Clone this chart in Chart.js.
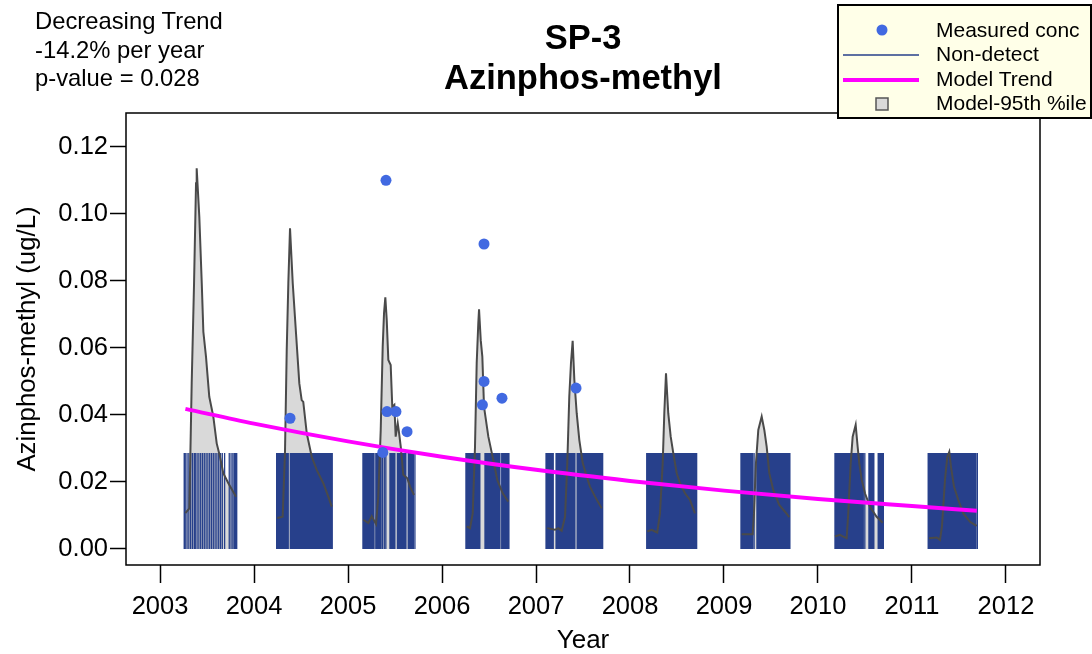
<!DOCTYPE html>
<html>
<head>
<meta charset="utf-8">
<script src="https://cdn.jsdelivr.net/npm/chart.js@4.4.1/dist/chart.umd.min.js"></script>
<style>
  body { margin: 0; background: #fff; font-family: "Liberation Sans", Arial, sans-serif; }
  #wrap { position: relative; width: 1092px; height: 654px; }
  #note { position: absolute; left: 35px; top: 7px; font-size: 23.8px; line-height: 28.5px; color: #000; }
  #titulo { position: absolute; left: 333px; width: 500px; top: 17px; text-align: center; font-size: 34.5px; font-weight: bold; line-height: 40px; }
  #leyenda { position: absolute; left: 837px; top: 4px; width: 251px; height: 111px; border: 2px solid #000; background: #FFFFE8; }
  #leyenda canvas { position: absolute; left: 0; top: 0; }
  #leyenda .txt { position: absolute; left: 97px; font-size: 21px; line-height: 24px; }
</style>
</head>
<body>
<div id="wrap">
  <canvas id="graficoTendencia" width="1092" height="654"></canvas>
  <div id="note">Decreasing Trend<br>-14.2% per year<br>p-value = 0.028</div>
  <div id="titulo">SP-3<br>Azinphos-methyl</div>
  <div id="leyenda">
    <canvas id="simbolos" width="100" height="111"></canvas>
    <div class="txt" style="top:12px">Measured conc</div>
    <div class="txt" style="top:36px">Non-detect</div>
    <div class="txt" style="top:61px">Model Trend</div>
    <div class="txt" style="top:85px">Model-95th %ile</div>
  </div>
</div>
<script>
// ejes
const xTicks = [2003, 2004, 2005, 2006, 2007, 2008, 2009, 2010, 2011, 2012];
const yTicks = [0.00, 0.02, 0.04, 0.06, 0.08, 0.10, 0.12];

// concentraciones medidas (detecciones)
const medidoAnio = [2004.383, 2005.370, 2005.404, 2005.415, 2005.510, 2005.628, 2006.430, 2006.447, 2006.447, 2006.638, 2007.426];
const medidoConc = [0.039, 0.0288, 0.110, 0.041, 0.041, 0.035, 0.043, 0.050, 0.091, 0.045, 0.048];

// tendencia del modelo
const tendAnio = [2003.27, 2004, 2005, 2006, 2007, 2008, 2009, 2010, 2011, 2011.69];
const tendConc = [0.0418, 0.0374, 0.0321, 0.0275, 0.0236, 0.0203, 0.0174, 0.0149, 0.0128, 0.0114];

// limite de deteccion y fechas de no-detectados (dia del anio por temporada)
const limiteDeteccion = 0.0286;
const nd2003 = [94, 98, 105, 112, 119, 126, 133, 137, 144, 151, 158, 165, 172, 179, 186, 193, 200, 207, 214, 221, 228, 235, 242, 251, 269, 276, 283, 289, 293, 298];
const nd2004 = [88, 92, 97, 102, 106, 111, 116, 120, 125, 130, 133, 141, 146, 151, 155, 160, 165, 169, 174, 179, 183, 188, 193, 197, 202, 207, 211, 216, 221, 225, 230, 235, 239, 244, 249, 253, 258, 263, 267, 272, 277, 281, 286, 291, 295, 300, 304];
const nd2005 = [58, 63, 68, 73, 78, 83, 88, 93, 98, 101, 108, 113, 118, 123, 128, 134, 141, 147, 163, 168, 173, 178, 182, 192, 197, 202, 207, 212, 217, 222, 225, 234, 239, 244, 249, 254, 260];
const nd2006 = [93, 98, 103, 108, 113, 118, 123, 128, 133, 138, 143, 147, 167, 172, 177, 182, 187, 192, 197, 202, 207, 212, 217, 222, 225, 232, 237, 242, 247, 252, 256, 260];
const nd2007 = [39, 44, 49, 54, 59, 64, 67, 78, 83, 88, 93, 98, 103, 108, 113, 118, 123, 128, 133, 138, 143, 148, 151, 160, 165, 170, 175, 180, 185, 190, 195, 200, 205, 210, 215, 220, 225, 230, 235, 240, 245, 250, 255, 259];
const nd2008 = [65, 70, 75, 80, 85, 90, 95, 100, 105, 110, 115, 120, 125, 130, 135, 140, 145, 150, 155, 160, 165, 170, 175, 180, 185, 190, 195, 200, 205, 210, 215, 220, 225, 230, 235, 240, 245, 250, 255, 259];
const nd2009 = [66, 71, 76, 81, 86, 91, 96, 101, 106, 111, 117, 128, 133, 138, 143, 148, 153, 158, 163, 168, 173, 178, 183, 188, 193, 198, 203, 208, 213, 218, 223, 228, 233, 238, 243, 248, 253, 256];
const nd2010 = [66, 71, 76, 81, 86, 91, 96, 101, 106, 111, 116, 121, 126, 131, 136, 141, 146, 151, 156, 161, 166, 171, 176, 182, 198, 203, 208, 213, 217, 234, 239, 244, 249, 254];
const nd2011 = [63, 68, 73, 78, 83, 88, 93, 98, 103, 108, 113, 118, 123, 128, 133, 138, 143, 148, 153, 158, 163, 168, 173, 178, 183, 188, 193, 198, 203, 208, 213, 218, 223, 228, 233, 238, 243, 248, 254];

// percentil 95 del modelo: [anio, conc]
const p95_2003 = [[2003.269, 0.0107], [2003.312, 0.0121], [2003.337, 0.0495], [2003.362, 0.0793], [2003.383, 0.1091], [2003.390, 0.1136], [2003.418, 0.0991], [2003.444, 0.0793], [2003.461, 0.0648], [2003.489, 0.0574], [2003.524, 0.0454], [2003.567, 0.0395], [2003.603, 0.0315], [2003.638, 0.0275], [2003.673, 0.0226], [2003.727, 0.0196], [2003.809, 0.0156]];
const p95_2004 = [[2004.248, 0.0092], [2004.305, 0.0096], [2004.330, 0.0295], [2004.348, 0.0594], [2004.365, 0.0793], [2004.383, 0.0957], [2004.412, 0.0793], [2004.447, 0.0643], [2004.482, 0.0494], [2004.507, 0.0444], [2004.524, 0.0439], [2004.561, 0.0345], [2004.614, 0.0275], [2004.667, 0.0236], [2004.737, 0.0196], [2004.790, 0.0156], [2004.827, 0.0126]];
const p95_2005 = [[2005.163, 0.0087], [2005.216, 0.0077], [2005.252, 0.0098], [2005.298, 0.0074], [2005.322, 0.0156], [2005.348, 0.0355], [2005.369, 0.0603], [2005.383, 0.0703], [2005.397, 0.0751], [2005.412, 0.0683], [2005.429, 0.0564], [2005.454, 0.0549], [2005.471, 0.0424], [2005.493, 0.0430], [2005.507, 0.0335], [2005.529, 0.0375], [2005.539, 0.0355], [2005.561, 0.0305], [2005.588, 0.0221], [2005.631, 0.0211], [2005.660, 0.0186], [2005.702, 0.0161]];
const p95_2006 = [[2006.263, 0.0067], [2006.298, 0.0062], [2006.327, 0.0106], [2006.351, 0.0305], [2006.369, 0.0554], [2006.386, 0.0673], [2006.394, 0.0715], [2006.412, 0.0623], [2006.429, 0.0574], [2006.447, 0.0424], [2006.493, 0.0335], [2006.546, 0.0265], [2006.588, 0.0206], [2006.646, 0.0166], [2006.705, 0.0141]];
const p95_2007 = [[2007.120, 0.0062], [2007.202, 0.0057], [2007.237, 0.0062], [2007.273, 0.0054], [2007.309, 0.0096], [2007.333, 0.0256], [2007.354, 0.0454], [2007.372, 0.0554], [2007.390, 0.0621], [2007.408, 0.0504], [2007.433, 0.0405], [2007.461, 0.0325], [2007.497, 0.0256], [2007.539, 0.0216], [2007.574, 0.0186], [2007.628, 0.0156], [2007.699, 0.0121]];
const p95_2008 = [[2008.184, 0.0052], [2008.231, 0.0057], [2008.266, 0.0052], [2008.290, 0.0049], [2008.319, 0.0106], [2008.348, 0.0256], [2008.365, 0.0405], [2008.383, 0.0524], [2008.407, 0.0405], [2008.433, 0.0335], [2008.461, 0.0285], [2008.497, 0.0226], [2008.532, 0.0196], [2008.585, 0.0166], [2008.638, 0.0146], [2008.691, 0.0106]];
const p95_2009 = [[2009.188, 0.0044], [2009.305, 0.0044], [2009.319, 0.0106], [2009.340, 0.0256], [2009.365, 0.0355], [2009.401, 0.0395], [2009.429, 0.0355], [2009.454, 0.0305], [2009.482, 0.0226], [2009.524, 0.0176], [2009.588, 0.0131], [2009.649, 0.0111], [2009.695, 0.0095]];
const p95_2010 = [[2010.181, 0.0037], [2010.234, 0.0042], [2010.269, 0.0037], [2010.305, 0.0032], [2010.322, 0.0106], [2010.348, 0.0256], [2010.369, 0.0335], [2010.401, 0.0370], [2010.422, 0.0305], [2010.439, 0.0256], [2010.465, 0.0206], [2010.500, 0.0166], [2010.553, 0.0126], [2010.624, 0.0096], [2010.688, 0.0078]];
const p95_2011 = [[2011.181, 0.0032], [2011.263, 0.0034], [2011.298, 0.0027], [2011.319, 0.0067], [2011.351, 0.0206], [2011.376, 0.0275], [2011.397, 0.0290], [2011.415, 0.0245], [2011.447, 0.0186], [2011.493, 0.0146], [2011.546, 0.0106], [2011.617, 0.0081], [2011.688, 0.0069]];

const temporadasND = [[2003, nd2003], [2004, nd2004], [2005, nd2005], [2006, nd2006], [2007, nd2007], [2008, nd2008], [2009, nd2009], [2010, nd2010], [2011, nd2011]];
const temporadasP95 = [p95_2003, p95_2004, p95_2005, p95_2006, p95_2007, p95_2008, p95_2009, p95_2010, p95_2011];

const FUENTE = '"Liberation Sans", Arial, sans-serif';

// cada no-detectado es un segmento vertical de 0 al limite; null corta la linea
const puntosND = [];
temporadasND.forEach(([anio, dias]) => {
    dias.forEach(d => {
        const x = anio + d / 365.25;
        puntosND.push({ x: x, y: 0 }, { x: x, y: limiteDeteccion }, { x: x, y: null });
    });
});

const puntosP95 = [];
temporadasP95.forEach(t => {
    t.forEach(([x, y]) => puntosP95.push({ x: x, y: y }));
    puntosP95.push({ x: t[t.length - 1][0] + 0.01, y: null });
});

const marcoPlugin = {
    id: 'marco',
    afterDatasetsDraw(chart) {
        const { ctx, chartArea: a } = chart;
        ctx.save();
        ctx.strokeStyle = '#000';
        ctx.lineWidth = 1.5;
        ctx.strokeRect(a.left, a.top, a.right - a.left, a.bottom - a.top);
        ctx.restore();
    }
};

const ctx = document.getElementById('graficoTendencia').getContext('2d');
new Chart(ctx, {
    type: 'line',
    data: {
        datasets: [
            {
                label: 'Measured conc',
                data: medidoAnio.map((x, i) => ({ x: x, y: medidoConc[i] })),
                showLine: false,
                pointRadius: 5.5,
                pointBackgroundColor: '#4169E1',
                pointBorderWidth: 0,
                order: 1
            },
            {
                label: 'Model Trend',
                data: tendAnio.map((x, i) => ({ x: x, y: tendConc[i] })),
                borderColor: '#FF00FF',
                borderWidth: 4,
                pointRadius: 0,
                cubicInterpolationMode: 'monotone',
                order: 2
            },
            {
                label: 'Model-95th outline',
                data: puntosP95,
                borderColor: '#4a4a4a',
                borderWidth: 2,
                pointRadius: 0,
                spanGaps: false,
                order: 3
            },
            {
                label: 'Non-detect',
                data: puntosND,
                borderColor: '#27408B',
                borderWidth: 1.3,
                pointRadius: 0,
                spanGaps: false,
                order: 4
            },
            {
                label: 'Model-95th %ile',
                data: puntosP95,
                borderWidth: 0,
                borderColor: 'rgba(0,0,0,0)',
                backgroundColor: '#D9D9D9',
                fill: 'origin',
                pointRadius: 0,
                spanGaps: false,
                order: 5
            }
        ]
    },
    options: {
        responsive: false,
        animation: false,
        devicePixelRatio: 1,
        layout: { padding: { left: 0, right: 52, top: 113, bottom: 0 } },
        plugins: {
            legend: { display: false },
            tooltip: { enabled: false }
        },
        scales: {
            x: {
                type: 'linear',
                min: 2002.638,
                max: 2012.362,
                afterBuildTicks: s => { s.ticks = xTicks.map(v => ({ value: v })); },
                afterFit: s => { s.height = 89; },
                ticks: {
                    color: '#000',
                    font: { family: FUENTE, size: 25.5 },
                    padding: 9,
                    maxRotation: 0,
                    callback: v => String(v)
                },
                grid: { drawOnChartArea: false, drawTicks: true, tickLength: 18, tickWidth: 1.5, tickColor: '#000' },
                border: { display: false },
                title: {
                    display: true,
                    text: 'Year',
                    color: '#000',
                    font: { family: FUENTE, size: 26 },
                    padding: { top: 0, bottom: -2 }
                }
            },
            y: {
                type: 'linear',
                min: -0.0048,
                max: 0.1301,
                afterBuildTicks: s => { s.ticks = yTicks.map(v => ({ value: v })); },
                afterFit: s => { s.width = 126; },
                ticks: {
                    color: '#000',
                    font: { family: FUENTE, size: 25.5 },
                    padding: 2,
                    callback: v => v.toFixed(2)
                },
                grid: { drawOnChartArea: false, drawTicks: true, tickLength: 16, tickWidth: 1.5, tickColor: '#000' },
                border: { display: false },
                title: {
                    display: true,
                    text: 'Azinphos-methyl (ug/L)',
                    color: '#000',
                    font: { family: FUENTE, size: 25.8 },
                    padding: { top: 12, bottom: 0 }
                }
            }
        }
    },
    plugins: [marcoPlugin]
});

// simbolos de la leyenda
const lg = document.getElementById('simbolos').getContext('2d');
lg.fillStyle = '#4169E1';
lg.beginPath(); lg.arc(43, 24, 5.5, 0, Math.PI * 2); lg.fill();
lg.strokeStyle = '#27408B'; lg.lineWidth = 1.5;
lg.beginPath(); lg.moveTo(4, 49); lg.lineTo(80, 49); lg.stroke();
lg.strokeStyle = '#FF00FF'; lg.lineWidth = 4;
lg.beginPath(); lg.moveTo(4, 74); lg.lineTo(80, 74); lg.stroke();
lg.fillStyle = '#D9D9D9'; lg.fillRect(37, 92, 12, 12);
lg.strokeStyle = '#555'; lg.lineWidth = 1.5; lg.strokeRect(37, 92, 12, 12);
</script>
</body>
</html>
